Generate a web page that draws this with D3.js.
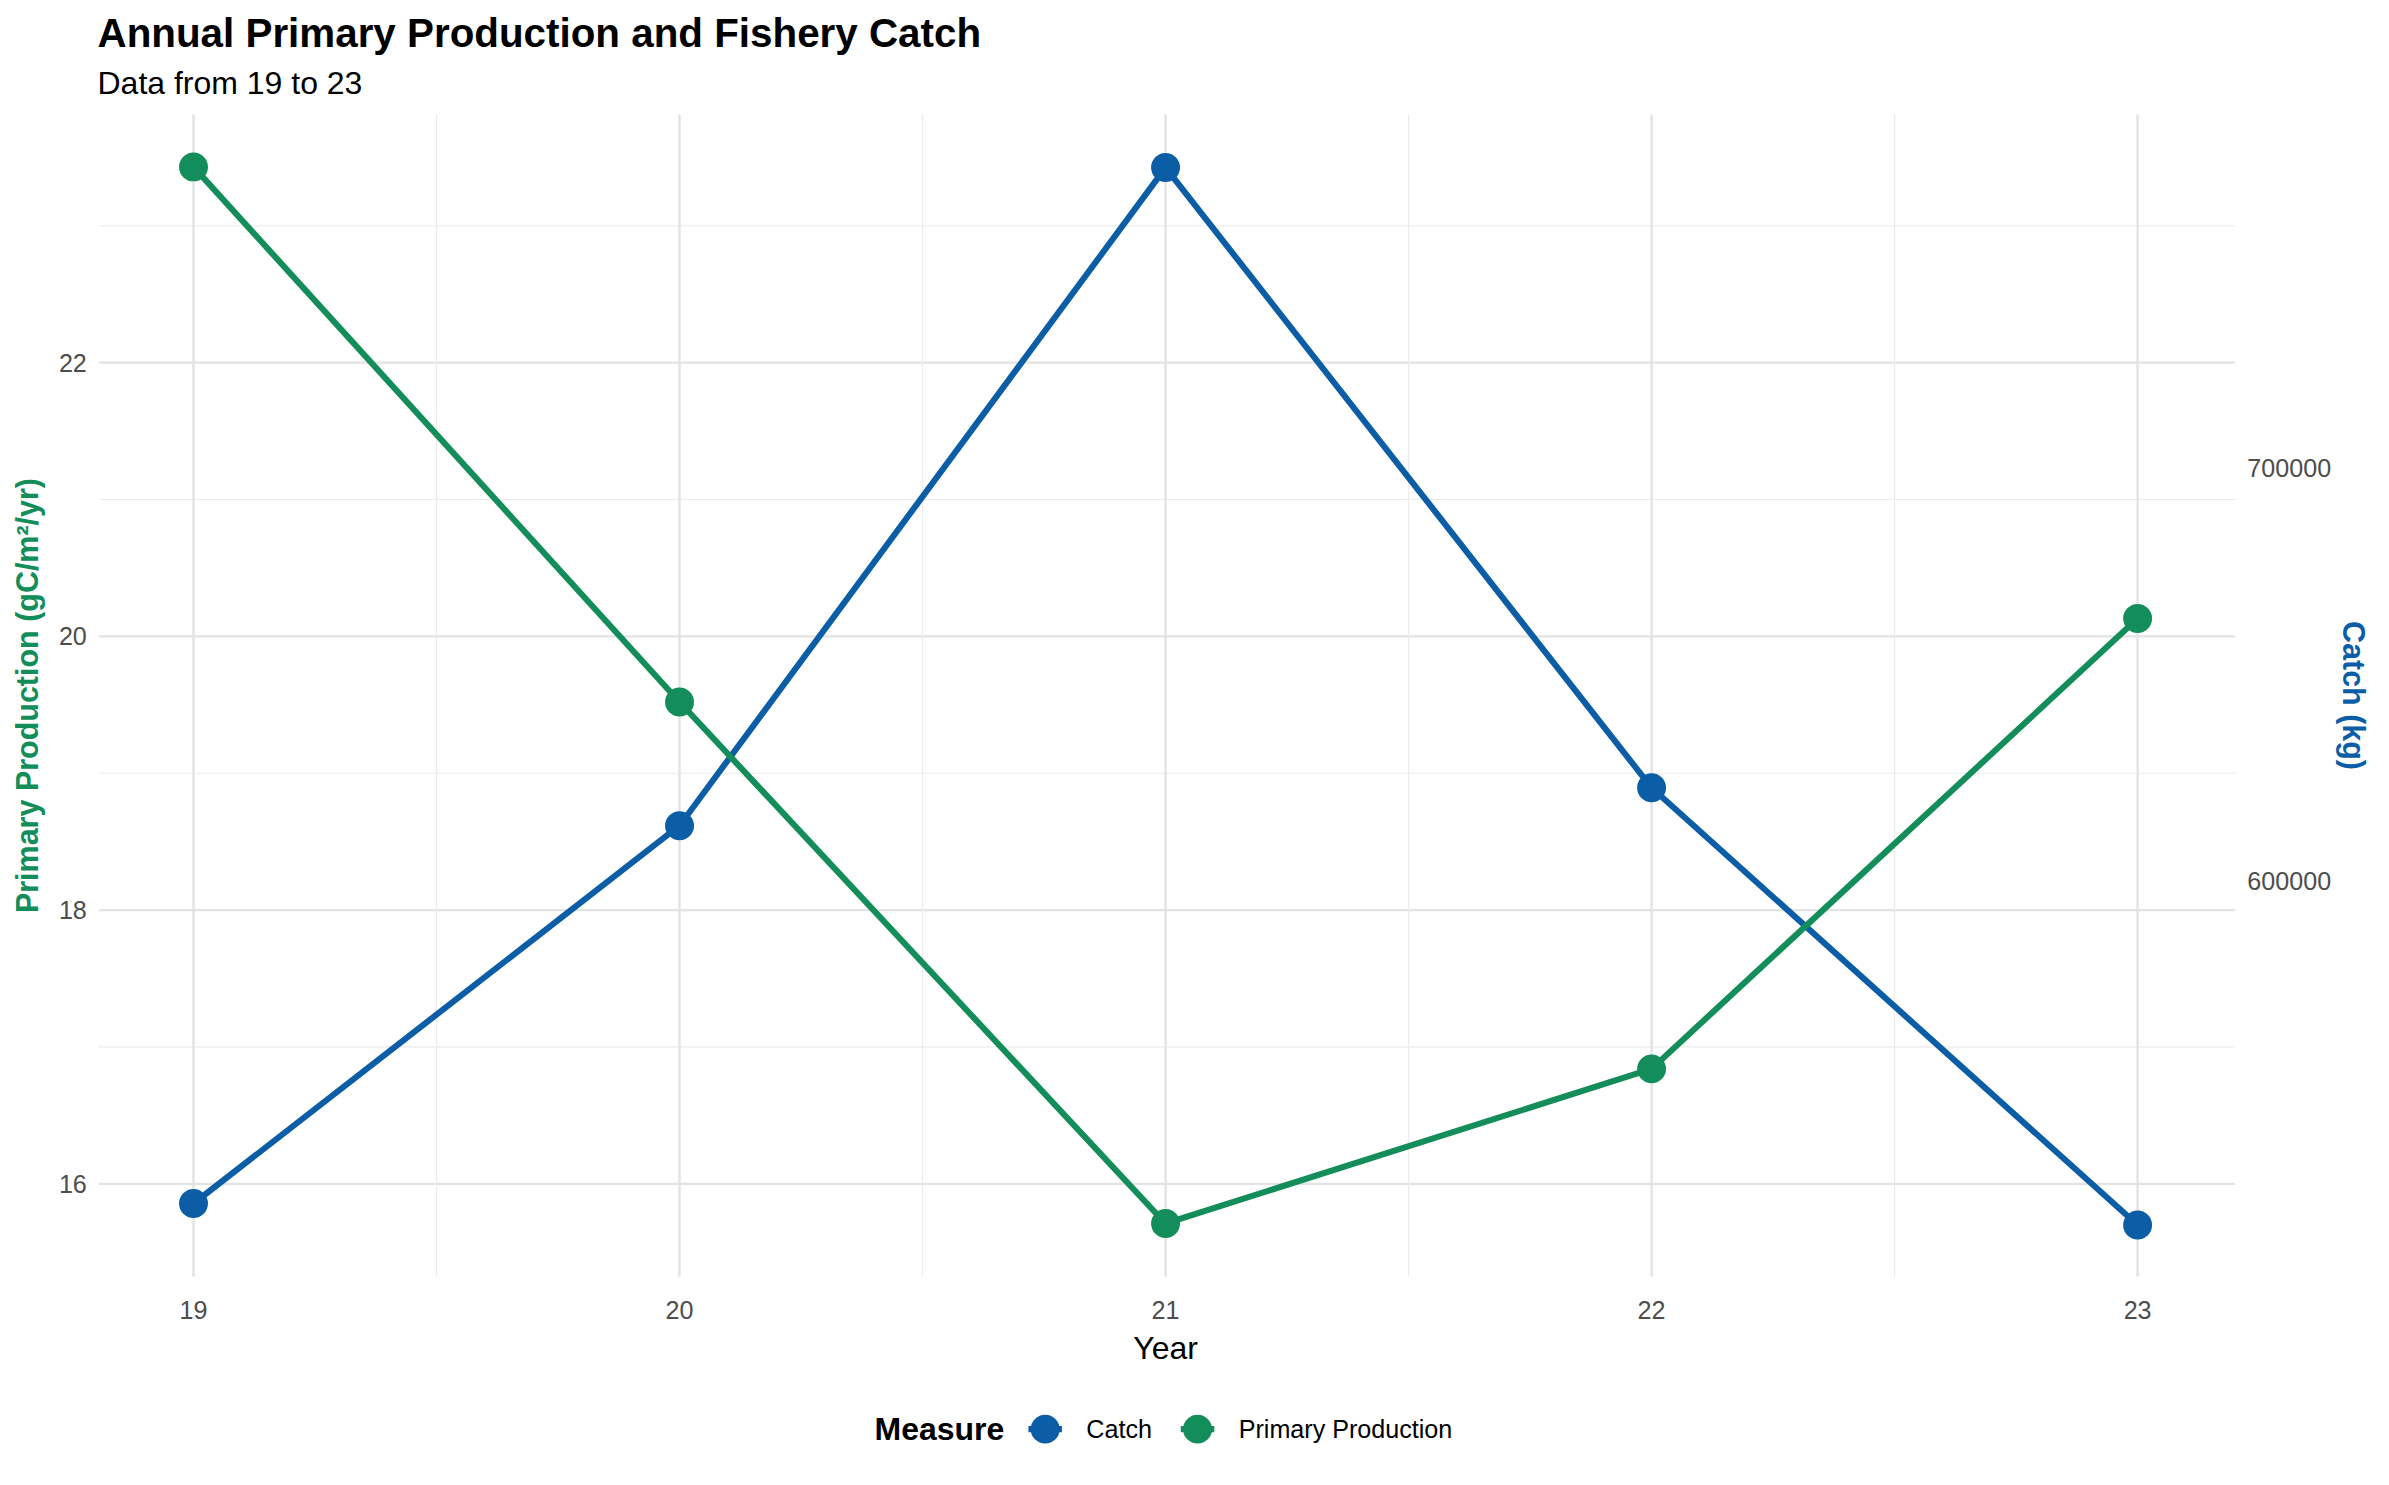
<!DOCTYPE html>
<html><head><meta charset="utf-8">
<script src="https://cdn.jsdelivr.net/npm/d3@7"></script>
<style>body{margin:0;background:#fff}text{font-family:"Liberation Sans",Arial,sans-serif}</style>
</head><body><svg id="c" width="2389" height="1485"></svg>
<script>
var years = [19, 20, 21, 22, 23];
var primaryProduction = [23.43, 19.52, 15.71, 16.84, 20.13];
var catchKg = [521800, 613300, 772700, 622500, 516600];
var leftTicks = [16, 18, 20, 22];
var leftMinor = [17, 19, 21, 23];
var rightTicks = [600000, 700000];
var green = "#138D5A", blue = "#0B5DA6";

var k = 2389 / 1568;
var svg = d3.select("#c");
var L = 65 * k, R = 1467 * k, T = 75 * k, B = 838 * k;

var x = d3.scaleLinear().domain([19, 23]).range([127 * k, 1403 * k]);
var y = d3.scaleLinear().domain([16, 22]).range([777 * k, 238 * k]);
var y2 = d3.scaleLinear().domain([600000, 700000]).range([578 * k, 307 * k]);

var g = svg.append("g");
leftMinor.forEach(function (v) {
  g.append("line").attr("x1", L).attr("x2", R).attr("y1", y(v)).attr("y2", y(v)).attr("stroke", "#ebebeb").attr("stroke-width", 1.2);
});
leftTicks.forEach(function (v) {
  g.append("line").attr("x1", L).attr("x2", R).attr("y1", y(v)).attr("y2", y(v)).attr("stroke", "#e3e3e3").attr("stroke-width", 2.4);
});
[19.5, 20.5, 21.5, 22.5].forEach(function (v) {
  g.append("line").attr("x1", x(v)).attr("x2", x(v)).attr("y1", T).attr("y2", B).attr("stroke", "#ebebeb").attr("stroke-width", 1.2);
});
years.forEach(function (v) {
  g.append("line").attr("x1", x(v)).attr("x2", x(v)).attr("y1", T).attr("y2", B).attr("stroke", "#e3e3e3").attr("stroke-width", 2.4);
});

var fs = 16.5 * k;
years.forEach(function (v) {
  svg.append("text").attr("x", x(v)).attr("y", 866 * k).attr("text-anchor", "middle").attr("font-size", fs).attr("fill", "#4d4d4d").text(v);
});
leftTicks.forEach(function (v) {
  svg.append("text").attr("x", 57 * k).attr("y", y(v) + 6 * k).attr("text-anchor", "end").attr("font-size", fs).attr("fill", "#4d4d4d").text(v);
});
rightTicks.forEach(function (v) {
  svg.append("text").attr("x", 1475 * k).attr("y", y2(v) + 6 * k).attr("font-size", fs).attr("fill", "#4d4d4d").text(v);
});
svg.append("text").attr("x", x(21)).attr("y", 892 * k).attr("text-anchor", "middle").attr("font-size", 21 * k).text("Year");
svg.append("text").attr("transform", "translate(" + 25 * k + "," + (T + B) / 2 + ") rotate(-90)").attr("text-anchor", "middle")
  .attr("font-size", 20 * k).attr("font-weight", "bold").attr("fill", green).text("Primary Production (gC/m²/yr)");
svg.append("text").attr("transform", "translate(" + 1538 * k + "," + (T + B) / 2 + ") rotate(90)").attr("text-anchor", "middle")
  .attr("font-size", 20 * k).attr("font-weight", "bold").attr("fill", blue).text("Catch (kg)");

svg.append("text").attr("x", 64 * k).attr("y", 31 * k).attr("font-size", 26.5 * k).attr("font-weight", "bold").text("Annual Primary Production and Fishery Catch");
svg.append("text").attr("x", 64 * k).attr("y", 62 * k).attr("font-size", 21 * k).text("Data from 19 to 23");

function draw(vals, sc, col) {
  var pts = years.map(function (yr, i) { return [x(yr), sc(vals[i])]; });
  svg.append("path").attr("d", d3.line()(pts)).attr("fill", "none").attr("stroke", col).attr("stroke-width", 4 * k);
  svg.selectAll(null).data(pts).enter().append("circle").attr("cx", function (d) { return d[0]; }).attr("cy", function (d) { return d[1]; })
    .attr("r", 9.5 * k).attr("fill", col);
}
draw(catchKg, y2, blue);
draw(primaryProduction, y, green);

var ly = 938 * k;
svg.append("text").attr("x", 574 * k).attr("y", ly + 7 * k).attr("font-size", 21 * k).attr("font-weight", "bold").text("Measure");
[["Catch", blue, 686], ["Primary Production", green, 786]].forEach(function (d) {
  svg.append("line").attr("x1", (d[2] - 11) * k).attr("x2", (d[2] + 11) * k).attr("y1", ly).attr("y2", ly).attr("stroke", d[1]).attr("stroke-width", 4 * k);
  svg.append("circle").attr("cx", d[2] * k).attr("cy", ly).attr("r", 9.5 * k).attr("fill", d[1]);
  svg.append("text").attr("x", (d[2] + 27) * k).attr("y", ly + 6 * k).attr("font-size", 16.5 * k).text(d[0]);
});
</script></body></html>
